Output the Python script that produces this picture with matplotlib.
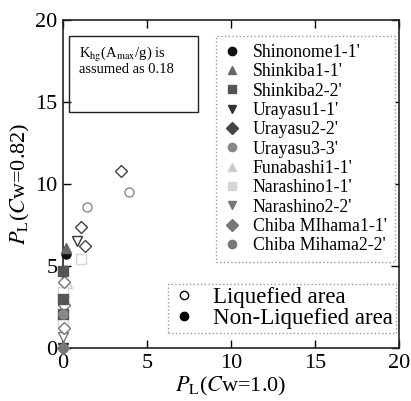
import matplotlib
matplotlib.use("Agg")
import matplotlib.pyplot as plt
from matplotlib.lines import Line2D
from matplotlib.patches import Rectangle

plt.rcParams['font.family'] = 'Liberation Serif'
plt.rcParams['mathtext.fontset'] = 'stix'

# series: name, marker, colour
sites = ["Shinonome1-1'", "Shinkiba1-1'", "Shinkiba2-2'", "Urayasu1-1'", "Urayasu2-2'",
         "Urayasu3-3'", "Funabashi1-1'", "Narashino1-1'", "Narashino2-2'",
         "Chiba MIhama1-1'", "Chiba Mihama2-2'"]
markers = ['o', '^', 's', 'v', 'D', 'o', '^', 's', 'v', 'D', 'o']
colors = ['#111111', '#666666', '#555555', '#333333', '#444444', '#888888',
          '#cccccc', '#d6d6d6', '#777777', '#777777', '#777777']

# liquefied (open markers): x = PL(Cw=1.0), y = PL(Cw=0.82)
liq_x = {
    "Urayasu2-2'": [3.45, 1.1, 1.3],
    "Urayasu3-3'": [3.9, 1.4],
    "Urayasu1-1'": [0.85],
    "Narashino1-1'": [1.05, 0.0, 0.0],
    "Funabashi1-1'": [0.25],
    "Chiba MIhama1-1'": [0.05, 0.05, 0.05],
    "Narashino2-2'": [0.0],
}
liq_y = {
    "Urayasu2-2'": [10.8, 7.4, 6.2],
    "Urayasu3-3'": [9.5, 8.6],
    "Urayasu1-1'": [6.5],
    "Narashino1-1'": [5.45, 3.4, 1.6],
    "Funabashi1-1'": [3.95],
    "Chiba MIhama1-1'": [4.05, 2.65, 1.2],
    "Narashino2-2'": [0.7],
}
# non-liquefied (filled markers)
non_x = {
    "Shinkiba1-1'": [0.2],
    "Shinonome1-1'": [0.2],
    "Shinkiba2-2'": [0.0, 0.0, 0.0],
    "Urayasu3-3'": [0.0],
    "Urayasu1-1'": [0.0],
    "Chiba MIhama1-1'": [0.0],
    "Chiba Mihama2-2'": [0.0],
}
non_y = {
    "Shinkiba1-1'": [6.1],
    "Shinonome1-1'": [5.75],
    "Shinkiba2-2'": [4.7, 3.0, 2.1],
    "Urayasu3-3'": [2.05],
    "Urayasu1-1'": [0.0],
    "Chiba MIhama1-1'": [0.0],
    "Chiba Mihama2-2'": [0.0],
}

fig = plt.figure(figsize=(4.11, 4.01), dpi=100)
ax = fig.add_axes([63 / 411, 53 / 401, 336 / 411, 328 / 401])

ms = 6.5
for name, m, c in zip(sites, markers, colors):
    if name in liq_x:
        ax.plot(liq_x[name], liq_y[name], ls='none', marker=m, ms=ms,
                mfc='white', mec=c, mew=1.0, clip_on=False, zorder=3)
for name, m, c in zip(sites, markers, colors):
    if name in non_x:
        ax.plot(non_x[name], non_y[name], ls='none', marker=m, ms=ms,
                mfc=c, mec=c, clip_on=False, zorder=4)

ax.set_xlim(0, 20)
ax.set_ylim(0, 20)
ax.set_xticks([0, 5, 10, 15, 20])
ax.set_yticks([0, 5, 10, 15, 20])
ax.tick_params(direction='in', top=True, right=True, length=6, width=1,
               labelsize=16, pad=4)
for s in ax.spines.values():
    s.set_linewidth(1.2)
    s.set_color('#222222')

ax.set_xlabel(r'$P_{\mathrm{L}}$($C$w=1.0)', fontsize=16, labelpad=2)
ax.set_ylabel(r'$P_{\mathrm{L}}$($C$w=0.82)', fontsize=16, labelpad=2)

# site legend
handles = [Line2D([], [], ls='none', marker=m, ms=6, mfc=c, mec=c)
           for m, c in zip(markers, colors)]
leg1 = ax.legend(handles, sites, loc='upper right', bbox_to_anchor=(0.988, 0.951),
                 borderaxespad=0, fontsize=12.8, labelspacing=0.13, handlelength=0.9,
                 handletextpad=0.73, borderpad=0.45, fancybox=False, framealpha=1,
                 edgecolor='#999999')
leg1.get_frame().set_linestyle(':')
ax.add_artist(leg1)

# liquefied / non-liquefied legend
h2 = [Line2D([], [], ls='none', marker='o', ms=6, mfc='white', mec='black'),
      Line2D([], [], ls='none', marker='o', ms=6, mfc='black', mec='black')]
leg2 = ax.legend(h2, ['Liquefied area', 'Non-Liquefied area'], loc='lower right',
                 bbox_to_anchor=(0.991, 0.046), borderaxespad=0, fontsize=16.5,
                 labelspacing=0.0, handlelength=1.1, handletextpad=0.69, borderpad=0.15,
                 fancybox=False, framealpha=1, edgecolor='#999999')
leg2.get_frame().set_linestyle(':')

# note box
ax.add_patch(Rectangle((0.018, 0.72), 0.384, 0.231, transform=ax.transAxes,
                       fill=False, ec='#222222', lw=1.0, zorder=5))
ax.text(0.048, 0.925, 'K$_{\\mathrm{hg}}$(A$_{\\mathrm{max}}$/g) is\nassumed as 0.18',
        transform=ax.transAxes, fontsize=10.5, va='top', ha='left', linespacing=0.95)

fig.savefig('out.png', dpi=100)
